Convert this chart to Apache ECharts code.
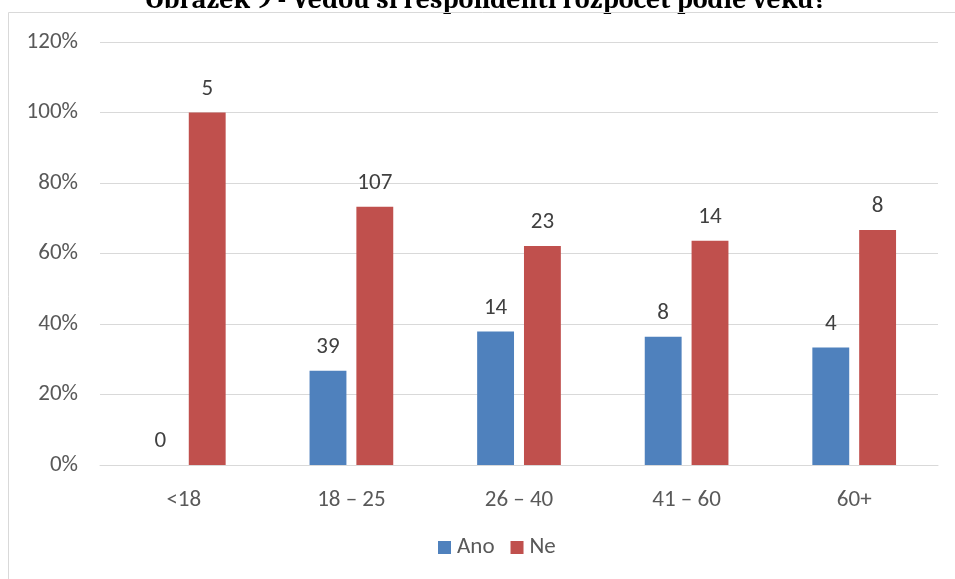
<!DOCTYPE html>
<html>
<head>
<meta charset="utf-8">
<script src="https://cdn.jsdelivr.net/npm/echarts@6/dist/echarts.min.js"></script>
<style>
  html, body { margin: 0; padding: 0; background: #fff; }
  #chart { width: 955px; height: 579px; }
</style>
</head>
<body>
<div id="chart"></div>
<script>
// Age groups and number of respondents answering "Ano" / "Ne"
const categories = ['<18', '18 – 25', '26 – 40', '41 – 60', '60+'];
const anoCounts = [0, 39, 14, 8, 4];
const neCounts = [5, 107, 23, 14, 8];
const yTicks = [0, 20, 40, 60, 80, 100, 120];

// Share of each answer within its age group (percent)
const totals = categories.map((_, i) => anoCounts[i] + neCounts[i]);
const anoShare = anoCounts.map((v, i) => v / totals[i] * 100);
const neShare = neCounts.map((v, i) => v / totals[i] * 100);

const font = 'Carlito, "Open Sans", "Liberation Sans", sans-serif';
const textSize = 23;

const chart = echarts.init(document.getElementById('chart'));

function barSeries(name, share, counts, color) {
  return {
    name: name,
    type: 'bar',
    data: share.map((v, i) => ({ value: v, count: counts[i] })),
    barWidth: '22%',
    barGap: '27%',
    itemStyle: { color: color },
    label: {
      show: true,
      position: 'top',
      distance: 12,
      color: '#404040',
      fontFamily: font,
      fontSize: textSize,
      formatter: p => String(p.data.count)
    }
  };
}

chart.setOption({
  animation: false,
  graphic: [
    {
      type: 'text',
      x: 486,
      y: 14,
      style: {
        text: 'Obrázek 9 - Vedou si respondenti rozpočet podle věku?',
        font: 'bold 28px Caladea, "Liberation Serif", "DejaVu Serif", serif',
        fill: '#000',
        align: 'center',
        verticalAlign: 'bottom'
      },
      silent: true
    },
    {
      type: 'rect',
      shape: { x: 8.5, y: 12.5, width: 1000, height: 600 },
      style: { fill: 'none', stroke: '#d9d9d9', lineWidth: 1 },
      silent: true
    }
  ],
  grid: { left: 100, right: 17, top: 42, bottom: 114 },
  legend: {
    bottom: 15,
    left: 433,
    itemWidth: 13,
    itemHeight: 13,
    itemGap: 16,
    icon: 'rect',
    textStyle: { fontFamily: font, fontSize: textSize, color: '#595959', padding: [0, 0, 0, 1] },
    data: ['Ano', 'Ne']
  },
  xAxis: {
    type: 'category',
    data: categories,
    axisTick: { show: false },
    axisLine: { lineStyle: { color: '#d9d9d9', width: 1 } },
    axisLabel: { fontFamily: font, fontSize: textSize, color: '#595959', margin: 24 }
  },
  yAxis: {
    type: 'value',
    min: yTicks[0],
    max: yTicks[yTicks.length - 1],
    interval: yTicks[1] - yTicks[0],
    axisLabel: { fontFamily: font, fontSize: textSize, color: '#595959', margin: 22, formatter: v => v + '%' },
    axisLine: { show: false },
    axisTick: { show: false },
    splitLine: { lineStyle: { color: '#d9d9d9', width: 1 } }
  },
  series: [
    barSeries('Ano', anoShare, anoCounts, '#4f81bd'),
    barSeries('Ne', neShare, neCounts, '#c0504d')
  ]
});
</script>
</body>
</html>
